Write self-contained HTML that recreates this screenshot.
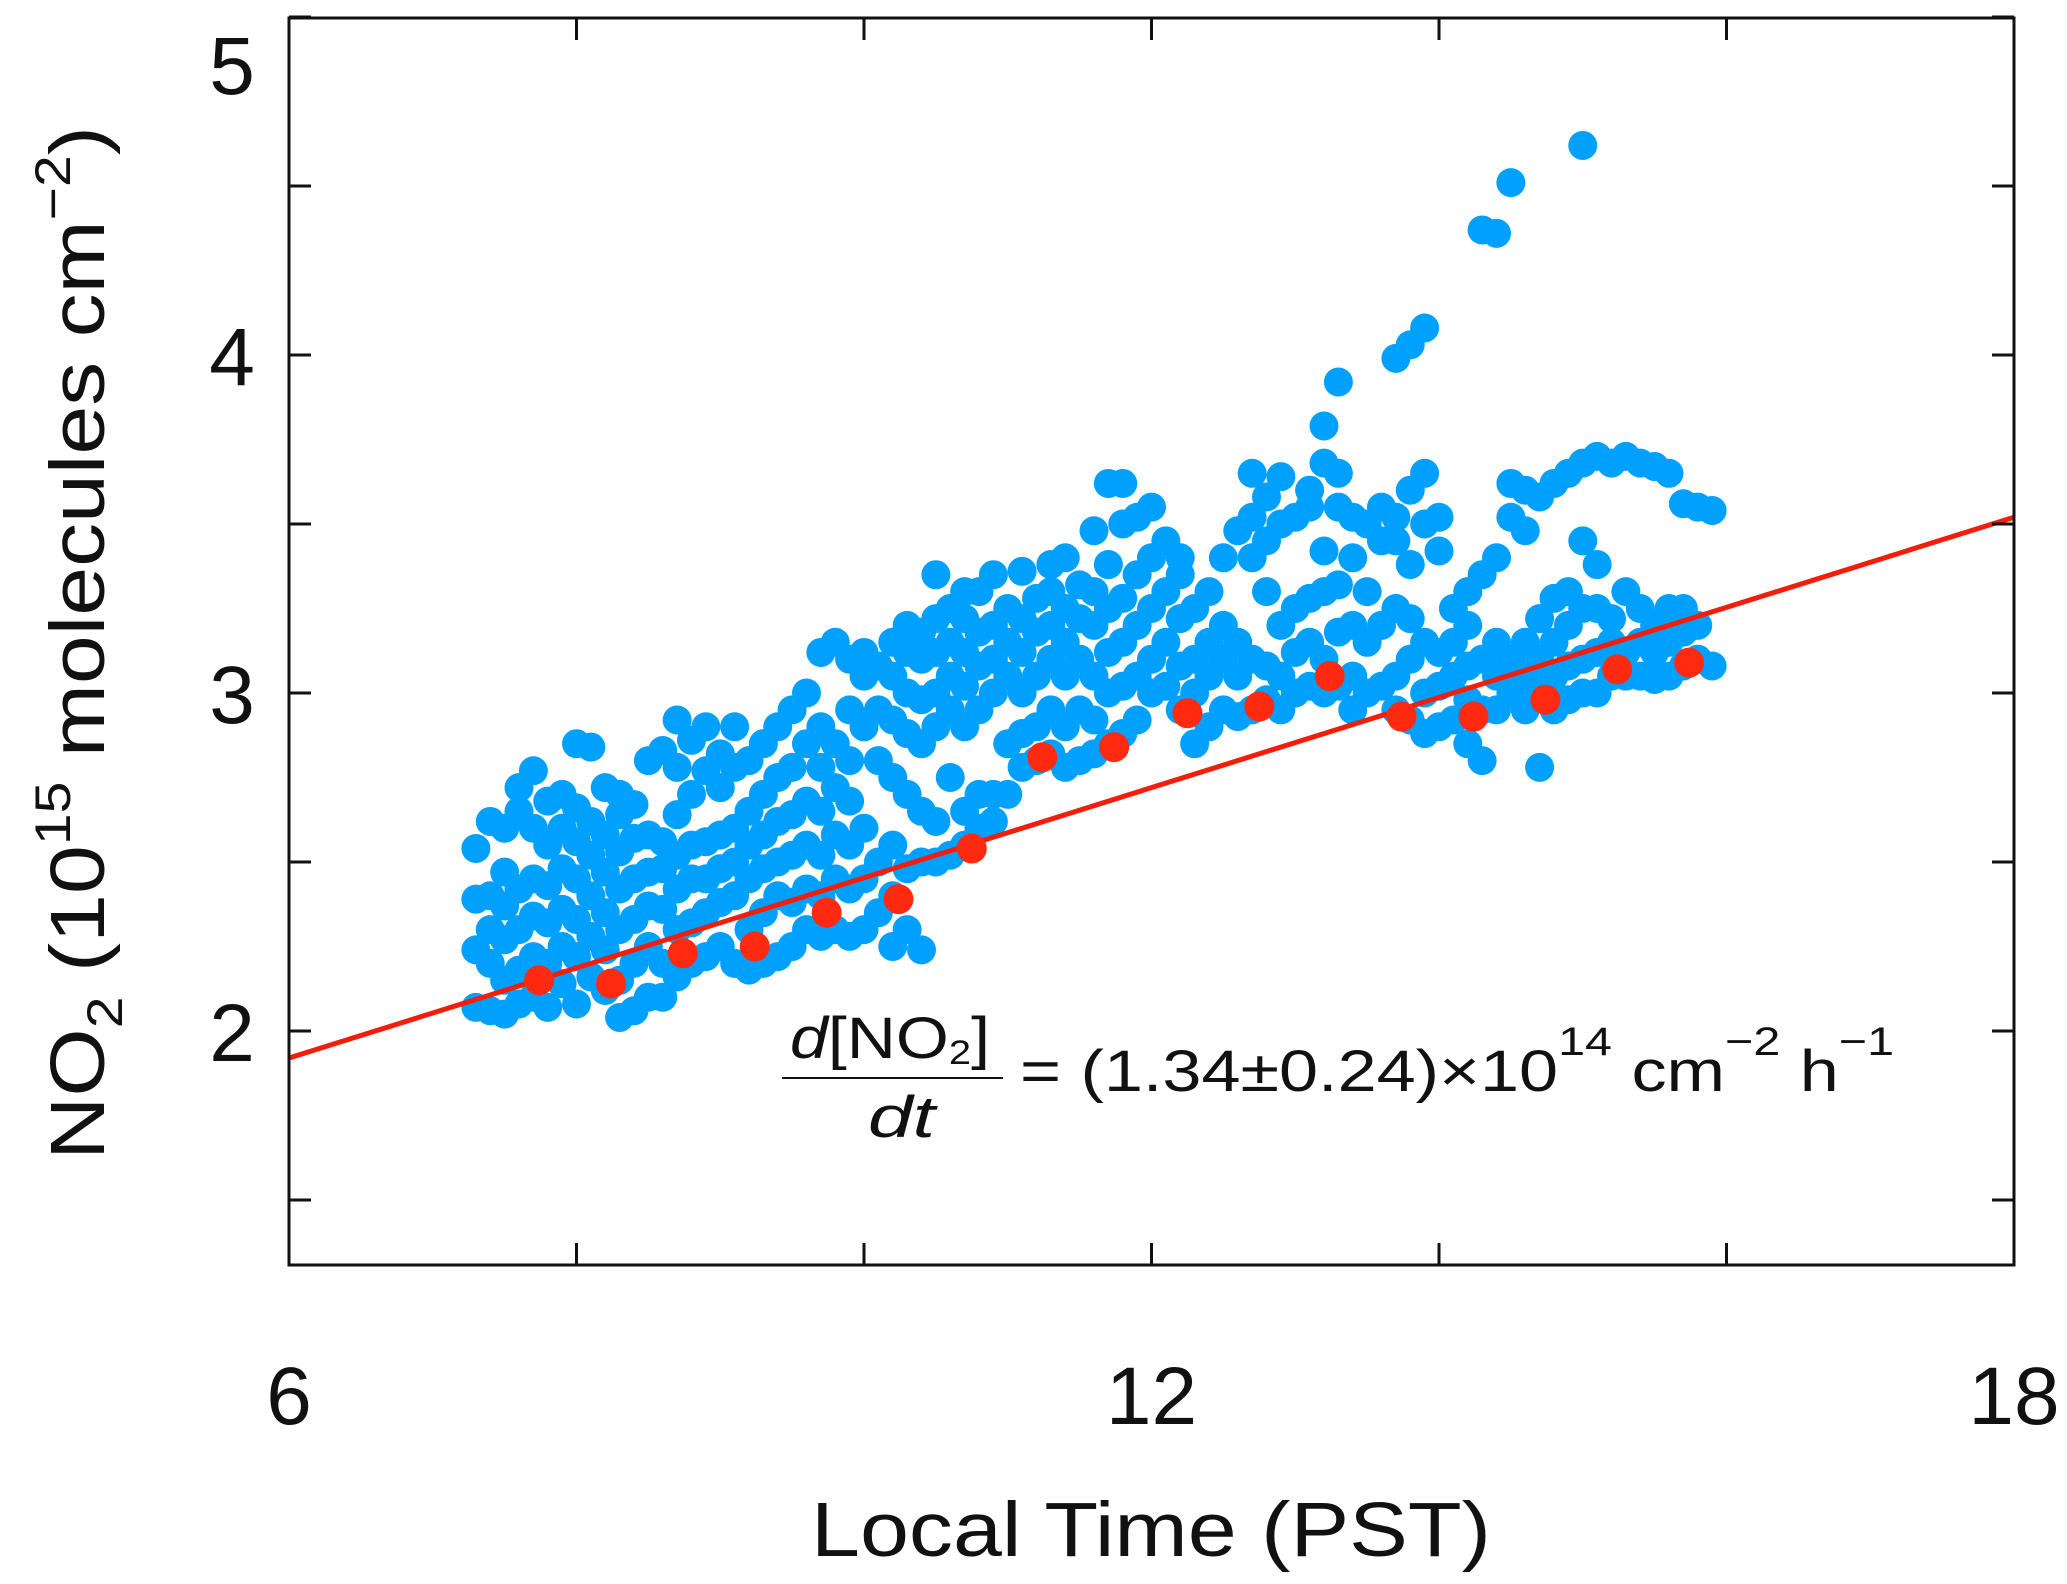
<!DOCTYPE html>
<html><head><meta charset="utf-8">
<style>html,body{margin:0;padding:0;background:#fff}svg{display:block}text{font-family:"Liberation Sans",sans-serif;fill:#111}</style>
</head><body>
<svg id="chart" width="2067" height="1584" viewBox="0 0 2067 1584" xmlns="http://www.w3.org/2000/svg">
<g id="marks"></g>
<rect x="289" y="18" width="1725" height="1247" fill="none" stroke="#111" stroke-width="3"/>
<g id="ticks"></g>
<text x="1151" y="1556" font-size="77" text-anchor="middle" textLength="680" lengthAdjust="spacingAndGlyphs">Local Time (PST)</text>
<text transform="translate(104,1160) rotate(-90)" font-size="77" textLength="1034" lengthAdjust="spacingAndGlyphs">NO<tspan font-size="50" dy="18">2</tspan><tspan dy="-18"> (10</tspan><tspan font-size="50" dy="-34">15</tspan><tspan dy="34"> molecules cm</tspan><tspan font-size="50" dy="-34">−2</tspan><tspan dy="34">)</tspan></text>
<g>
<text x="790" y="1058" font-size="58" textLength="200" lengthAdjust="spacingAndGlyphs"><tspan font-style="italic">d</tspan>[NO<tspan font-size="34" dy="6">2</tspan><tspan dy="-6">]</tspan></text>
<line x1="782" y1="1078" x2="1003" y2="1078" stroke="#111" stroke-width="2"/>
<text x="868" y="1137" font-size="58" font-style="italic" textLength="67" lengthAdjust="spacingAndGlyphs">dt</text>
<text x="1020" y="1091" font-size="58" textLength="874" lengthAdjust="spacingAndGlyphs">= (1.34±0.24)×10<tspan font-size="40" dy="-36">14</tspan><tspan dy="36"> cm</tspan><tspan font-size="40" dy="-36">−2</tspan><tspan dy="36"> h</tspan><tspan font-size="40" dy="-36">−1</tspan></text>
</g>
</svg>
<script>
const xTicks=[6,12,18];
const xMinorTicks=[8,10,14,16];
const yTicks=[2,3,4,5];
const yMinorTicks=[1.5,2.5,3.5,4.5];
const fitLine=[[6,1.92],[18,3.52]];
const redTimes=[7.74,8.24,8.74,9.24,9.74,10.24,10.75,11.24,11.74,12.25,12.75,13.24,13.74,14.24,14.74,15.24,15.74];
const redValues=[2.15,2.14,2.23,2.25,2.35,2.39,2.54,2.81,2.84,2.94,2.96,3.05,2.93,2.93,2.98,3.07,3.09];
const blueTimes=[7.3,7.4,7.5,7.6,7.7,7.8,7.9,8.0,8.1,8.2,8.3,8.4,8.5,8.6,8.7,8.8,8.9,9.0,9.1,9.2,9.3,9.4,9.5,9.6,9.7,9.8,9.9,10.0,10.1,10.2,10.3,10.4,10.5,10.6,10.7,10.8,10.9,11.0,11.1,11.2,11.3,11.4,11.5,11.6,11.7,11.8,11.9,12.0,12.1,12.2,12.3,12.4,12.5,12.6,12.7,12.8,12.9,13.0,13.1,13.2,13.3,13.4,13.5,13.6,13.7,13.8,13.9,14.0,14.1,14.2,14.3,14.4,14.5,14.6,14.7,14.8,14.9,15.0,15.1,15.2,15.3,15.4,15.5,15.6,15.7,15.8,15.9];
const blueValues=[
[2.07,2.24,2.39,2.54],[2.06,2.2,2.3,2.4,2.62],[2.05,2.15,2.27,2.37,2.47,2.6],[2.08,2.18,2.3,2.42,2.65,2.72],
[2.1,2.22,2.34,2.45,2.6,2.77],[2.07,2.2,2.32,2.43,2.55,2.68],[2.14,2.25,2.36,2.48,2.6,2.7],[2.08,2.22,2.33,2.45,2.56,2.66,2.85],
[2.16,2.28,2.4,2.52,2.62,2.84],[2.12,2.24,2.35,2.47,2.58,2.72],[2.04,2.15,2.3,2.42,2.53,2.64,2.7],[2.06,2.2,2.33,2.45,2.57,2.67],
[2.1,2.25,2.37,2.47,2.58,2.8],[2.1,2.2,2.36,2.48,2.56,2.83],[2.16,2.3,2.42,2.52,2.64,2.78,2.92],[2.2,2.32,2.45,2.55,2.7,2.86],
[2.22,2.35,2.45,2.56,2.77,2.9],[2.25,2.38,2.48,2.58,2.72,2.82],[2.2,2.4,2.5,2.6,2.78,2.9],[2.18,2.3,2.45,2.55,2.65,2.8],
[2.2,2.35,2.48,2.58,2.7,2.85],[2.22,2.4,2.5,2.62,2.75,2.9],[2.25,2.38,2.52,2.64,2.78,2.95],[2.3,2.42,2.55,2.68,2.85,3.0],
[2.28,2.4,2.52,2.65,2.78,2.9,3.12],[2.3,2.45,2.58,2.72,2.85,3.15],[2.28,2.42,2.55,2.68,2.8,2.95,3.1],[2.3,2.45,2.6,2.9,3.05,3.12],
[2.35,2.5,2.8,2.95,3.08],[2.25,2.4,2.55,2.75,2.92,3.05,3.15],[2.3,2.48,2.7,2.88,3.0,3.12,3.2],[2.24,2.5,2.65,2.85,2.98,3.1,3.18],
[2.5,2.62,2.9,3.0,3.12,3.22,3.35],[2.52,2.75,2.95,3.05,3.15,3.25],[2.55,2.65,2.9,3.02,3.12,3.22,3.3],[2.6,2.7,2.95,3.08,3.18,3.3],
[2.62,2.7,3.0,3.1,3.2,3.35],[2.7,2.85,3.05,3.15,3.25],[2.78,2.88,3.0,3.12,3.22,3.36],[2.8,2.9,3.05,3.18,3.28],
[2.82,2.95,3.1,3.2,3.3,3.38],[2.78,2.9,3.05,3.15,3.25,3.4],[2.8,2.95,3.1,3.22,3.32],[2.82,2.92,3.05,3.2,3.3,3.48],
[2.85,3.0,3.12,3.25,3.38,3.62],[2.88,3.02,3.15,3.28,3.5,3.62],[2.92,3.05,3.2,3.35,3.52],[3.0,3.1,3.25,3.4,3.55],
[3.02,3.15,3.3,3.45],[2.95,3.08,3.22,3.35,3.4],[2.85,3.0,3.1,3.25],[2.9,3.05,3.15,3.3],
[2.95,3.1,3.2,3.4],[2.93,3.05,3.15,3.48],[2.95,3.1,3.4,3.52,3.65],[2.98,3.08,3.3,3.45,3.58],
[2.95,3.05,3.2,3.5,3.64],[3.0,3.12,3.25,3.52],[3.02,3.15,3.28,3.55,3.6],[3.0,3.1,3.3,3.42,3.68,3.79],
[3.02,3.18,3.32,3.55,3.65,3.92],[2.95,3.05,3.2,3.4,3.52],[3.0,3.15,3.3,3.5],[3.02,3.2,3.45,3.55],
[2.95,3.05,3.25,3.45,3.52,3.99],[2.92,3.1,3.22,3.38,3.6,4.03],[2.88,3.0,3.15,3.5,3.65,4.08],[2.9,3.02,3.12,3.42,3.52],
[2.92,3.05,3.15,3.25],[2.85,2.98,3.08,3.2,3.3],[2.8,2.95,3.1,3.35,4.37],[2.95,3.05,3.15,3.4,4.36],
[3.0,3.1,3.52,3.62,4.51],[2.95,3.05,3.15,3.48,3.6],[2.78,3.0,3.1,3.22,3.58],[2.95,3.05,3.15,3.28,3.62],
[2.98,3.08,3.2,3.3,3.65],[3.0,3.1,3.25,3.45,3.68,4.62],[3.0,3.12,3.25,3.38,3.7],[3.05,3.15,3.22,3.68],
[3.05,3.12,3.3,3.7],[3.05,3.15,3.25,3.68],[3.04,3.12,3.2,3.67],[3.05,3.15,3.25,3.65],
[3.08,3.18,3.25,3.56],[3.1,3.2,3.55],[3.08,3.54]];

const NS='http://www.w3.org/2000/svg';
const X0=289,X1=2014,Y0=1265,YTOP=18;
function xs(t){return X0+(t-6)/12*(X1-X0);}
function ys(v){return 1031-(v-2)*338;}
const marks=document.getElementById('marks');
const ticks=document.getElementById('ticks');
function mk(tag,attrs,parent){const e=document.createElementNS(NS,tag);for(const k in attrs)e.setAttribute(k,attrs[k]);parent.appendChild(e);return e;}

blueTimes.forEach((t,i)=>{blueValues[i].forEach(v=>{
  const c=mk('circle',{cx:xs(t),cy:ys(v),r:14.5,fill:'#00a0ff'},marks);
  
  
});});
const ln=mk('line',{x1:xs(fitLine[0][0]),y1:ys(fitLine[0][1]),x2:xs(fitLine[1][0]),y2:ys(fitLine[1][1]),stroke:'#f01e0a','stroke-width':5},marks);


redTimes.forEach((t,i)=>{
  const c=mk('circle',{cx:xs(t),cy:ys(redValues[i]),r:15,fill:'#ff2a10'},marks);
  
  
});
xTicks.concat(xMinorTicks).forEach(t=>{
  const a=mk('line',{x1:xs(t),x2:xs(t),y1:Y0,y2:Y0-22,stroke:'#111','stroke-width':3},ticks);
  
  
  const b=mk('line',{x1:xs(t),x2:xs(t),y1:YTOP,y2:YTOP+22,stroke:'#111','stroke-width':3},ticks);
  
  
});
xTicks.forEach(t=>{
  const tx=mk('text',{x:xs(t),y:1424,'font-size':82,'text-anchor':'middle'},ticks);
  tx.textContent=String(t);
  
  
});
yTicks.concat(yMinorTicks).forEach(v=>{
  const a=mk('line',{x1:X0,x2:X0+22,y1:ys(v),y2:ys(v),stroke:'#111','stroke-width':3},ticks);
  
  
  const b=mk('line',{x1:X1,x2:X1-22,y1:ys(v),y2:ys(v),stroke:'#111','stroke-width':3},ticks);
  
  
});
yTicks.forEach(v=>{
  const cy=v===5?64:ys(v);
  const tx=mk('text',{x:232,y:cy+30,'font-size':82,'text-anchor':'middle'},ticks);
  tx.textContent=String(v);
  
  
});
</script>
</body></html>
